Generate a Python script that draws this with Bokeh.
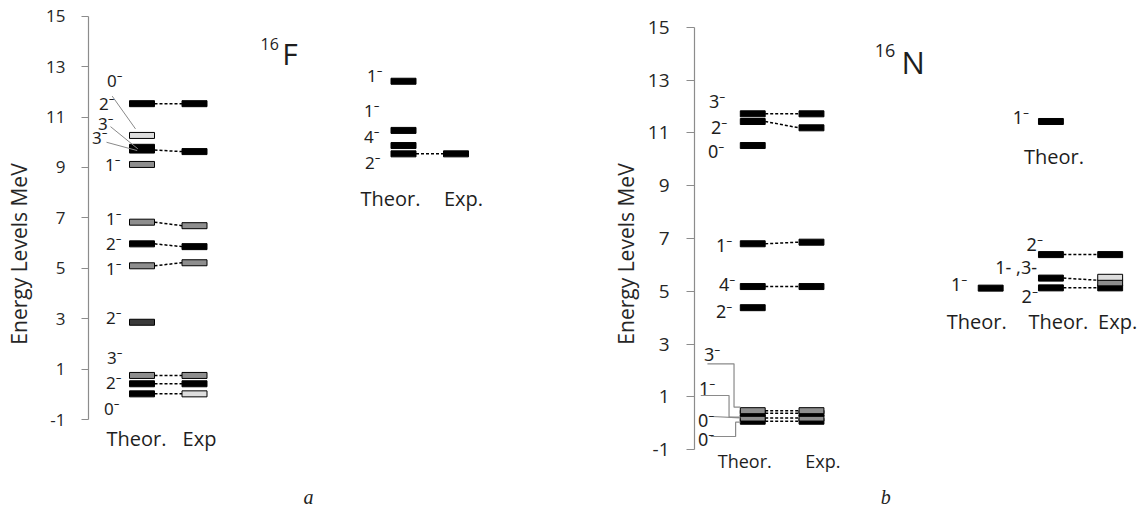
from bokeh.plotting import figure
from bokeh.layouts import row
from bokeh.models import FixedTicker, ColumnDataSource
from bokeh.core.properties import value
from bokeh.embed import file_html
from bokeh.resources import INLINE

M = "\u207b"  # superscript minus

# ================= DATA: panel a, 16F =================
# main Theor./Exp columns (MeV)
F_theor_E    = [11.53, 10.27, 9.80, 9.69, 9.12, 6.83, 5.97, 5.10, 2.86, 0.75, 0.42, 0.02]
F_theor_kind = ["k", "l", "k", "k", "g", "g", "k", "g", "d", "g", "k", "k"]
F_exp_E      = [11.53, 9.63, 6.69, 5.86, 5.22, 0.75, 0.42, 0.02]
F_exp_kind   = ["k", "k", "g", "k", "g", "g", "k", "l"]
F_link_theor = [11.53, 9.69, 6.83, 5.97, 5.10, 0.75, 0.42, 0.02]
F_link_exp   = [11.53, 9.63, 6.69, 5.86, 5.22, 0.75, 0.42, 0.02]
F_spins      = ["0", "2", "3", "3", "1", "1", "2", "1", "2", "3", "2", "0"]
F_spin_y     = [12.45, 11.55, 10.73, 10.18, 9.12, 6.96, 6.00, 4.98, 3.04, 1.47, 0.48, -0.57]
# second (upper) group
F2_theor_E   = [12.42, 10.47, 9.87, 9.54]
F2_exp_E     = [9.54]
F2_link_theor = [9.54]
F2_link_exp   = [9.54]
F2_spins     = ["1", "1", "4", "2"]
F2_spin_y    = [12.65, 11.26, 10.23, 9.20]

# ================= DATA: panel b, 16N =================
N_theor_E    = [11.72, 11.43, 10.52, 6.80, 5.18, 4.38, 0.48, 0.38, 0.20, 0.08]
N_theor_kind = ["k", "k", "k", "k", "k", "k", "g", "k", "g", "k"]
N_exp_E      = [11.72, 11.19, 6.86, 5.18, 0.48, 0.38, 0.20, 0.08]
N_exp_kind   = ["k", "k", "k", "k", "g", "k", "g", "k"]
N_link_theor = [11.72, 11.43, 6.80, 5.18, 0.48, 0.38, 0.20, 0.08]
N_link_exp   = [11.72, 11.19, 6.86, 5.18, 0.48, 0.38, 0.20, 0.08]
N_spins      = ["3", "2", "0", "1", "4", "2", "3", "1", "0", "0"]
N_spin_y     = [12.22, 11.24, 10.33, 6.75, 5.27, 4.25, 2.62, 1.32, 0.11, -0.58]
# right-hand groups
N_R1_theor_E = [11.43]
N_R2_theor_E = [5.12]
N_R3_theor_E = [6.39, 5.50, 5.13]
N_R3_exp_E    = [6.39, 5.53, 5.32, 5.13]
N_R3_exp_kind = ["k", "l", "g", "k"]
N_R3_link_theor = [6.39, 5.50, 5.13]
N_R3_link_exp   = [6.39, 5.42, 5.13]

TICKS = [-1, 1, 3, 5, 7, 9, 11, 13, 15]
FILL = {"k": "#000000", "g": "#8e8e8e", "l": "#dedede", "d": "#3a3a3a"}
TXT = "#1e1e1e"
LEAD = "#8a8a8a"


def make_fig(width, left, frame_w, y0, y1, tick_size, standoff, tick_out, lab_size, lab_standoff):
    p = figure(width=width, height=507, x_range=(0, frame_w), y_range=(y0, y1),
               x_axis_type=None, output_backend="svg", toolbar_location=None,
               min_border_left=left, min_border_right=0, min_border_top=0, min_border_bottom=0)
    p.grid.visible = False
    p.outline_line_color = None
    ax = p.yaxis[0]
    ax.bounds = (-1, 15)
    ax.ticker = FixedTicker(ticks=TICKS)
    ax.major_label_overrides = {t: str(t) for t in TICKS}
    ax.minor_tick_line_color = None
    ax.major_tick_in = 0
    ax.major_tick_out = tick_out
    ax.axis_line_color = "#8c8c8c"
    ax.major_tick_line_color = "#8c8c8c"
    ax.axis_line_width = 1.2
    ax.major_label_text_font = "Open Sans"
    ax.major_label_text_font_size = f"{tick_size}px"
    ax.major_label_text_color = "#262626"
    ax.major_label_standoff = standoff
    ax.axis_label = "Energy Levels MeV"
    ax.axis_label_text_font = "Open Sans"
    ax.axis_label_text_font_style = "normal"
    ax.axis_label_text_font_size = f"{lab_size}px"
    ax.axis_label_text_color = "#262626"
    ax.axis_label_standoff = lab_standoff
    return p


def bars(p, x, energies, kinds=None, w=25, h=6):
    if kinds is None:
        kinds = ["k"] * len(energies)
    order = sorted(range(len(energies)), key=lambda i: energies[i])
    src = ColumnDataSource(dict(x=[x] * len(order),
                                y=[energies[i] for i in order],
                                c=[FILL[kinds[i]] for i in order]))
    p.rect(x="x", y="y", width=w, height=h, height_units="screen",
           fill_color="c", line_color="black", line_width=1, source=src)


def links(p, xt, xe, et, ee, color="black", dash="3 2", lw=1.5, half=12.5):
    p.segment(x0=[xt + half] * len(et), y0=et, x1=[xe - half] * len(ee), y1=ee,
              line_color=color, line_dash=dash, line_width=lw)


def txt(p, xs, ys, ts, size, align="center", font="Open Sans", style="normal",
        baseline="middle", color=TXT):
    p.text(x=xs, y=ys, text=ts, text_font=value(font), text_font_size=f"{size}px",
           text_font_style=style, text_align=align, text_baseline=baseline, text_color=color)


# ---------------- panel a ----------------
pa = make_fig(608, 88, 520, -4.488, 15.623, 17, 16, 7, 21, 10)
XT, XE = 53.5, 106
bars(pa, XT, F_theor_E, F_theor_kind)
bars(pa, XE, F_exp_E, F_exp_kind)
links(pa, XT, XE, F_link_theor, F_link_exp)
pa.multi_line(xs=[[23.7, 47], [22, 49.3], [18, 48.7]],
              ys=[[11.83, 10.53], [10.62, 9.74], [10.0, 9.67]],
              line_color=LEAD, line_width=1)
F_spin_xr = [34, 26, 25, 19, 32, 33, 33, 33, 33, 34, 33, 31]
txt(pa, F_spin_xr, F_spin_y, [s + M for s in F_spins], 17, align="right", font="Noto Sans")
txt(pa, [48, 111], [-1.75, -1.75], ["Theor.", "Exp"], 20)

X2T, X2E = 315, 367.5
bars(pa, X2T, F2_theor_E)
bars(pa, X2E, F2_exp_E)
links(pa, X2T, X2E, F2_link_theor, F2_link_exp)
txt(pa, [294, 291, 291, 292], F2_spin_y, [s + M for s in F2_spins], 17, align="right", font="Noto Sans")
txt(pa, [302, 375], [7.77, 7.77], ["Theor.", "Exp."], 20)

txt(pa, [172], [13.905], ["16"], 16, align="left", baseline="alphabetic")
txt(pa, [193.7], [13.51], ["F"], 30, align="left", baseline="alphabetic")
txt(pa, [220], [-4.06], ["a"], 20, font="Liberation Serif", style="italic")

# ---------------- panel b ----------------
pb = make_fig(539, 84, 455, -3.186, 16.011, 19, 17, 8, 21, 5)
YT, YE = 58.5, 117.5
bars(pb, YT, N_theor_E, N_theor_kind)
bars(pb, YE, N_exp_E, N_exp_kind)
links(pb, YT, YE, N_link_theor, N_link_exp)
pb.multi_line(xs=[[13, 39.7, 39.7, 46], [6.3, 34.7, 34.7, 46], [18, 46], [16.3, 41.3, 41.3, 46]],
              ys=[[2.255, 2.255, 0.612, 0.612], [1.055, 1.055, 0.233, 0.233],
                  [0.26, 0.21], [-0.498, -0.498, 0.044, 0.044]],
              line_color=LEAD, line_width=1.2)
N_spin_xr = [31, 33, 30, 38, 41, 38, 26, 21, 20, 20]
txt(pb, N_spin_xr, N_spin_y, [s + M for s in N_spins], 18, align="right", font="Noto Sans")
txt(pb, [50.5, 129], [-1.41, -1.41], ["Theor.", "Exp."], 18)

XR1 = 358
bars(pb, XR1, N_R1_theor_E)
txt(pb, [336], [11.61], ["1" + M], 18, align="right", font="Noto Sans")
txt(pb, [361], [10.10], ["Theor."], 20)

XR2 = 297.5
bars(pb, XR2, N_R2_theor_E)
txt(pb, [274], [5.29], ["1" + M], 18, align="right", font="Noto Sans")
txt(pb, [283.5], [3.87], ["Theor."], 20)

XR3T, XR3E = 358, 417.5
bars(pb, XR3T, N_R3_theor_E)
bars(pb, XR3E, N_R3_exp_E, N_R3_exp_kind)
links(pb, XR3T, XR3E, N_R3_link_theor, N_R3_link_exp)
txt(pb, [350, 344, 345], [6.81, 5.91, 4.84], ["2" + M, "1- ,3-", "2" + M], 18, align="right", font="Noto Sans")
txt(pb, [365.5, 425], [3.87, 3.87], ["Theor.", "Exp."], 20)

txt(pb, [181], [14.12], ["16"], 18, align="left", baseline="alphabetic")
txt(pb, [208], [13.67], ["N"], 31, align="left", baseline="alphabetic")
txt(pb, [192], [-2.77], ["b"], 20, font="Liberation Serif", style="italic")

layout = row(pa, pb)
open("out.html", "w").write(file_html(layout, INLINE))
